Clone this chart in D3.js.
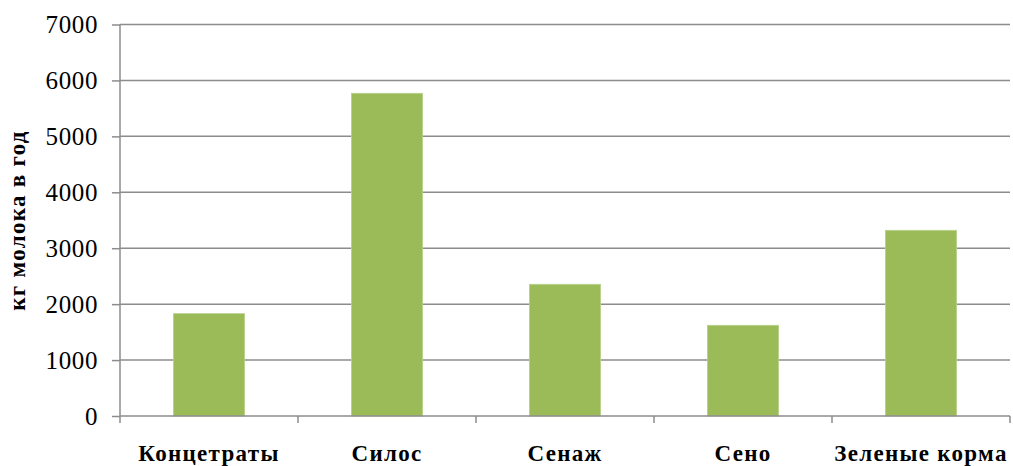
<!DOCTYPE html>
<html><head><meta charset="utf-8">
<script src="https://cdn.jsdelivr.net/npm/d3@7"></script>
<style>body{margin:0;background:#fff} svg text{font-family:"Liberation Serif","Times New Roman",serif !important;}</style>
</head><body>
<svg id="c" width="1013" height="466"></svg>
<script>
const categories = ["Концетраты","Силос","Сенаж","Сено","Зеленые корма"];
const values = [1830, 5770, 2355, 1622, 3320];
const yTicks = [0,1000,2000,3000,4000,5000,6000,7000];
const yTitle = "кг молока в год";

const svg = d3.select("#c");
const L = 120, R = 1010, T = 24.5, B = 416;
const x = d3.scaleBand().domain(categories).range([L, R]).paddingInner(0.6).paddingOuter(0.3);
const xb = d3.scaleBand().domain(categories).range([L, R]);
const y = d3.scaleLinear().domain([0,7000]).range([B, T]);

// gridlines
svg.append("g").selectAll("line").data(yTicks.slice(1)).join("line")
  .attr("x1", L).attr("x2", R).attr("y1", d=>y(d)).attr("y2", d=>y(d))
  .attr("stroke", "#8c8c8c").attr("stroke-width", 1.5);

// bars
svg.append("g").selectAll("rect").data(values).join("rect")
  .attr("x", (d,i)=>x(categories[i])).attr("width", x.bandwidth())
  .attr("y", d=>y(d)).attr("height", d=>B-y(d))
  .attr("fill", "#9bbb59").attr("stroke", "#b9d18a").attr("stroke-width", 0.8);

// y axis
const ya = svg.append("g").attr("transform", `translate(${L},0)`)
  .call(d3.axisLeft(y).tickValues(yTicks).tickSize(8).tickPadding(14).tickFormat(d3.format("d")));
ya.attr("font-family", null).attr("font-size", null);
ya.select(".domain").attr("stroke", "#8c8c8c").attr("stroke-width", 1.5).attr("d", `M0,${T}V${B}`);
ya.selectAll(".tick line").attr("stroke", "#8c8c8c").attr("stroke-width", 1.5);
ya.selectAll("text").style("font-size", "25px").style("letter-spacing", "0.6px").attr("fill", "#000");

// x axis
const xa = svg.append("g").attr("transform", `translate(0,${B})`);
xa.append("line").attr("x1", L).attr("x2", R).attr("stroke", "#8c8c8c").attr("stroke-width", 1.5);
const bounds = categories.map(c=>xb(c)).concat([R]);
xa.selectAll("line.t").data(bounds).join("line").attr("class","t")
  .attr("x1", d=>d).attr("x2", d=>d).attr("y1", 0).attr("y2", 7)
  .attr("stroke", "#8c8c8c").attr("stroke-width", 1.5);
xa.selectAll("text").data(categories).join("text")
  .attr("x", d=>xb(d)+xb.bandwidth()/2).attr("y", 45)
  .attr("text-anchor", "middle")
  .style("font-weight", "bold").style("font-size", "23px").style("letter-spacing", "1.3px").text(d=>d);

// y title
svg.append("text").attr("transform", "translate(25,220.5) rotate(-90)")
  .attr("text-anchor", "middle")
  .style("font-weight", "bold").style("font-size", "23px").style("letter-spacing", "1.3px").text(yTitle);
</script>
</body></html>
